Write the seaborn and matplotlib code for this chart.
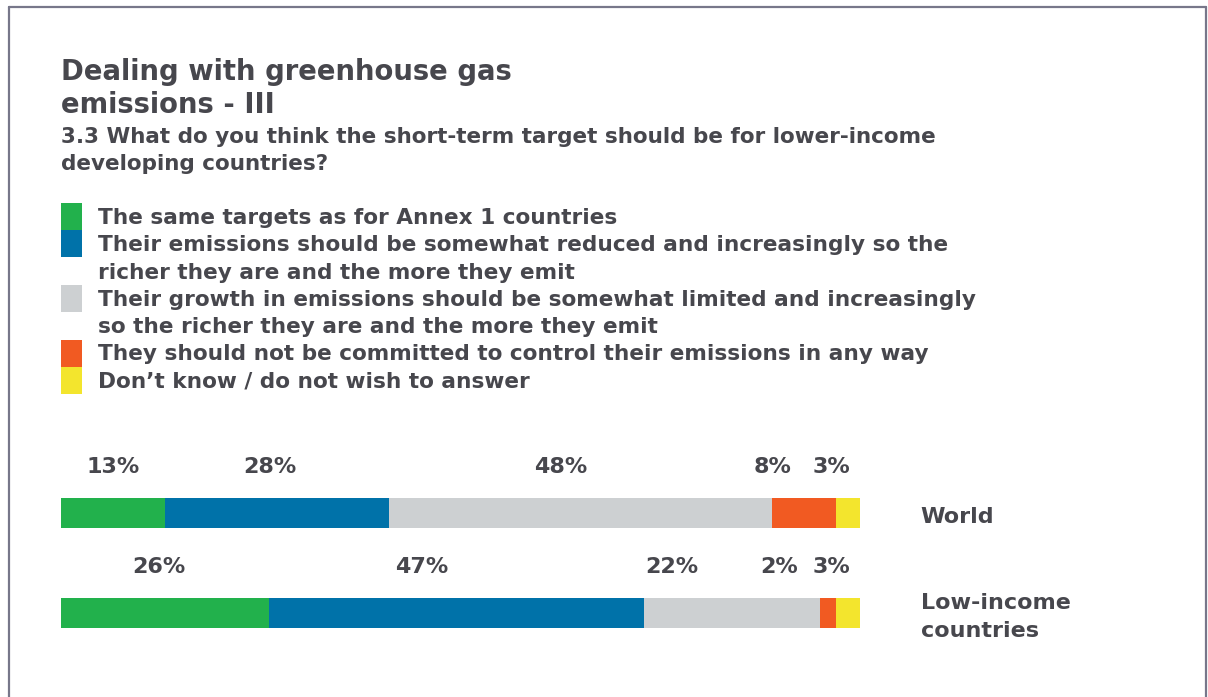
"""Stacked share bar: short-term target for lower-income developing countries."""

import matplotlib

matplotlib.use("Agg")
import matplotlib.pyplot as plt
import numpy as np
import pandas as pd
import seaborn as sns
from matplotlib.patches import Rectangle

# ---- data -----------------------------------------------------------------
groups = ["World", "Low-income\ncountries"]
answers = [
    "The same targets as for Annex 1 countries",
    "Their emissions should be somewhat reduced and increasingly so the\n"
    "richer they are and the more they emit",
    "Their growth in emissions should be somewhat limited and increasingly\n"
    "so the richer they are and the more they emit",
    "They should not be committed to control their emissions in any way",
    "Don\u2019t know / do not wish to answer",
]
world_pct = [13, 28, 48, 8, 3]
low_income_pct = [26, 47, 22, 2, 3]

title = "Dealing with greenhouse gas\nemissions - III"
subtitle = (
    "3.3 What do you think the short-term target should be for lower-income\n"
    "developing countries?"
)

# ---- style ----------------------------------------------------------------
colors = ["#22b14c", "#0072a9", "#cdd0d2", "#f15a22", "#f3e52d"]
text_color = "#47474d"
# horizontal nudges (in % units) so the small labels do not collide
label_nudge = [
    [0.0, -0.8, -2.5, -4.0, -2.1],
    [-0.8, -4.3, -7.5, -6.1, -2.1],
]

W, H = 1208, 697
sns.set_theme(style="white")
plt.rcParams["font.family"] = ["DejaVu Sans"]
plt.rcParams["font.weight"] = "bold"


def fx(px):
    return px / W


def fy(py):
    return 1 - py / H


fig = plt.figure(figsize=(W / 100, H / 100), dpi=100)
fig.patch.set_facecolor("white")

# thin frame on top/left/right
frame_kw = dict(color="#77778a", lw=1.6, transform=fig.transFigure)
fig.add_artist(plt.Line2D([fx(9), fx(1206)], [fy(7), fy(7)], **frame_kw))
fig.add_artist(plt.Line2D([fx(9), fx(9)], [fy(7), fy(697)], **frame_kw))
fig.add_artist(plt.Line2D([fx(1206), fx(1206)], [fy(7), fy(697)], **frame_kw))

# titles
for i, line in enumerate(title.split("\n")):
    fig.text(fx(61), fy(80 + 33 * i), line, fontsize=19.8, color=text_color,
             fontweight="bold", va="baseline")
for i, line in enumerate(subtitle.split("\n")):
    fig.text(fx(61), fy(143 + 27 * i), line, fontsize=15.5, color=text_color,
             fontweight="bold", va="baseline")

# legend, drawn line by line with a swatch on the first line of each entry
line_idx = 0
for label, col in zip(answers, colors):
    top = 203 + 27.3 * line_idx
    fig.add_artist(Rectangle((fx(61), fy(top + 27)), fx(21), 27 / H,
                             transform=fig.transFigure, color=col, lw=0))
    for sub in label.split("\n"):
        fig.text(fx(98), fy(224 + 27.3 * line_idx), sub, fontsize=15.6,
                 color=text_color, fontweight="bold", va="baseline")
        line_idx += 1

# ---- bars -----------------------------------------------------------------
ax = fig.add_axes([fx(61), fy(660), fx(860) - fx(61), (660 - 440) / H])
df = pd.DataFrame({"group": groups})
values = np.array([world_pct, low_income_pct], dtype=float)
cum = values.cumsum(axis=1)

# draw cumulative totals from the outermost segment inwards
for k in range(len(answers) - 1, -1, -1):
    df["cum"] = cum[:, k]
    sns.barplot(data=df, x="cum", y="group", orient="h", color=colors[k],
                width=0.3, linewidth=0, saturation=1, ax=ax)

ax.set_xlim(0, 100)
ax.set_ylim(1.47, -0.73)
ax.axis("off")

for r, grp in enumerate(groups):
    starts = cum[r] - values[r]
    for k, v in enumerate(values[r]):
        xc = starts[k] + v / 2 + label_nudge[r][k]
        ax.text(xc, r - 0.40, f"{int(v)}%", ha="center", va="baseline",
                fontsize=16, color=text_color, fontweight="bold")
    lines = grp.split("\n")
    y0 = r + 0.10 - 0.14 * (len(lines) - 1)
    for j, sub in enumerate(lines):
        ax.text(107.6, y0 + 0.28 * j, sub, ha="left", va="baseline",
                fontsize=16, color=text_color, fontweight="bold", clip_on=False)

fig.savefig("out.png", dpi=100)
plt.close(fig)
